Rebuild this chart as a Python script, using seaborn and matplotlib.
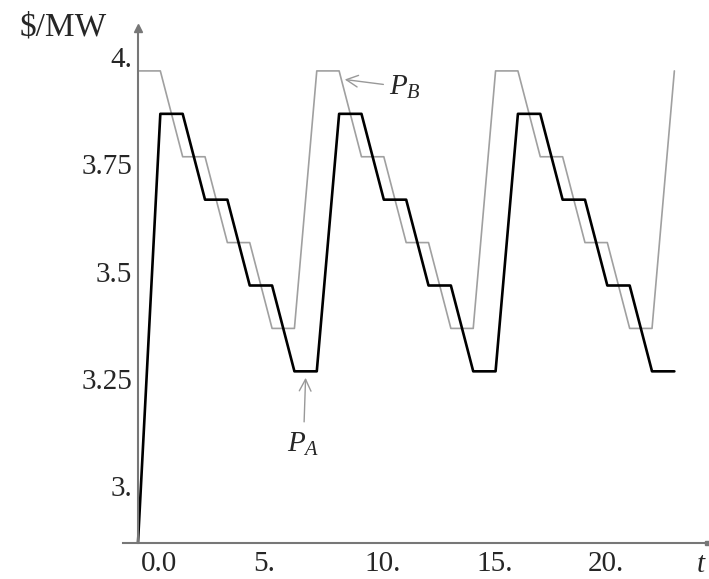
import matplotlib
matplotlib.use("Agg")
import matplotlib.pyplot as plt
import matplotlib.transforms as mtransforms
import seaborn as sns
import pandas as pd

# hourly prices
t = list(range(25))
p_a = [2.9, 3.9, 3.9, 3.7, 3.7, 3.5, 3.5, 3.3, 3.3,
       3.9, 3.9, 3.7, 3.7, 3.5, 3.5, 3.3, 3.3,
       3.9, 3.9, 3.7, 3.7, 3.5, 3.5, 3.3, 3.3]
p_b = [4.0, 4.0, 3.8, 3.8, 3.6, 3.6, 3.4, 3.4,
       4.0, 4.0, 3.8, 3.8, 3.6, 3.6, 3.4, 3.4,
       4.0, 4.0, 3.8, 3.8, 3.6, 3.6, 3.4, 3.4, 4.0]
x_ticks = [0, 5, 10, 15, 20]
x_tick_labels = ["0.0", "5.", "10.", "15.", "20."]
y_ticks = [3.0, 3.25, 3.5, 3.75, 4.0]
y_tick_labels = ["3.", "3.25", "3.5", "3.75", "4."]

df = pd.DataFrame({"t": t, "pA": p_a, "pB": p_b})

sns.set_style("white")
plt.rcParams["font.family"] = ["Liberation Serif", "DejaVu Serif"]
plt.rcParams["mathtext.fontset"] = "custom"
plt.rcParams["mathtext.it"] = "Liberation Serif:italic"
plt.rcParams["mathtext.rm"] = "Liberation Serif"

axcol = "#777777"
fig = plt.figure(figsize=(7.09, 5.79), dpi=100)
ax = fig.add_axes([123 / 709, 36 / 579, 584 / 709, 515 / 579])

sns.lineplot(df, x="t", y="pB", color="#a0a0a0", lw=1.2, ax=ax)
sns.lineplot(df, x="t", y="pA", color="black", lw=1.9, ax=ax)

ax.set_xlim(-0.67, 25.46)
ax.set_ylim(2.9, 4.1)
ax.set_xlabel("")
ax.set_ylabel("")

for s in ["top", "right"]:
    ax.spines[s].set_visible(False)
ax.spines["left"].set_position(("data", 0))
for s in ["left", "bottom"]:
    ax.spines[s].set_color(axcol)
    ax.spines[s].set_linewidth(1.5)

ax.set_xticks(x_ticks, x_tick_labels)
ax.set_yticks(y_ticks, y_tick_labels)
ax.tick_params(axis="both", direction="out", length=3, width=1, color=axcol,
               labelsize=21, pad=1)
for lab in ax.get_xticklabels():
    lab.set_horizontalalignment("left")
    lab.set_transform(lab.get_transform() +
                      mtransforms.ScaledTranslation(0.03, -0.02, fig.dpi_scale_trans))
for lab in ax.get_yticklabels():
    lab.set_transform(lab.get_transform() +
                      mtransforms.ScaledTranslation(0, 0.14, fig.dpi_scale_trans))

# axis arrow heads
ax.plot([0], [4.1], marker="^", color=axcol, ms=6, clip_on=False)
ax.plot([25.46], [2.9], marker="s", color=axcol, ms=3, clip_on=False)

ax.annotate("$P_B$", xy=(9.25, 3.98), xytext=(11.25, 3.962), ha="left", va="center",
            fontsize=21, arrowprops=dict(arrowstyle="->", color="#999999", lw=1,
                                         shrinkA=2, shrinkB=0))
ax.annotate("$P_A$", xy=(7.5, 3.285), xytext=(7.4, 3.13), ha="center", va="center",
            fontsize=21, arrowprops=dict(arrowstyle="->", color="#999999", lw=1,
                                         shrinkA=4, shrinkB=0))

fig.text(20 / 709, 1 - 27 / 579, r"\$/MW", ha="left", va="center", fontsize=24)
fig.text(701 / 709, 1 - 565 / 579, "$t$", ha="center", va="center", fontsize=21)

fig.savefig("out.png", dpi=100)
